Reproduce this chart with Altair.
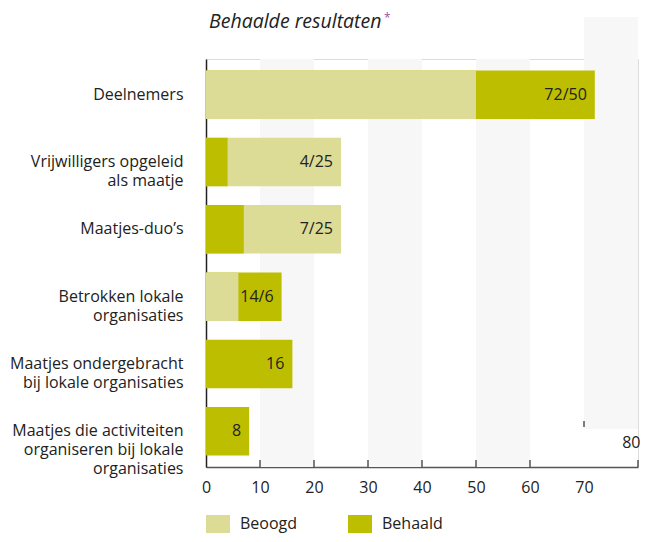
import altair as alt
import pandas as pd

# ---- data ----
categories = [
    "Deelnemers",
    "Vrijwilligers opgeleid|als maatje",
    "Maatjes-duo’s",
    "Betrokken lokale|organisaties",
    "Maatjes ondergebracht|bij lokale organisaties",
    "Maatjes die activiteiten|organiseren bij lokale|organisaties",
]
beoogd = [50, 25, 25, 6, None, None]
behaald = [72, 4, 7, 14, 16, 8]
series_names = ["Beoogd", "Behaald"]
series_colors = ["#dcdc96", "#bebe00"]
x_tick_values = [0, 10, 20, 30, 40, 50, 60, 70, 80]
inner_ticks = [10, 20, 30, 40, 50, 60, 80]
raised_tick = [70]
band_starts = [10, 30, 50]
raised_band_start = [70]
title_text = "Behaalde resultaten"
title_mark = "*"

FONT = "Open Sans"
TXT = "#222222"
FS = 16
W, H = 432, 408

rows = []
labels = []
for c, b, h in zip(categories, beoogd, behaald):
    if b is not None:
        rows.append({"cat": c, "series": "Beoogd", "value": b})
    rows.append({"cat": c, "series": "Behaald", "value": h})
    end = max(v for v in (b, h) if v is not None)
    txt = f"{h}/{b}" if b is not None else f"{h}"
    labels.append({"cat": c, "end": end, "label": txt})
bars_df = pd.DataFrame(rows)
labels_df = pd.DataFrame(labels)
bands_df = pd.DataFrame({"start": band_starts, "end": [s + 10 for s in band_starts]})
rband_df = pd.DataFrame({"start": raised_band_start, "end": [s + 10 for s in raised_band_start]})
ticks_df = pd.DataFrame({"t": inner_ticks})
rtick_df = pd.DataFrame({"t": raised_tick})

xscale = alt.Scale(domain=[0, 80], nice=False, zero=True)
yscale = alt.Scale(paddingInner=0.28, paddingOuter=0.17)

bands = alt.Chart(bands_df).mark_rect(color="#f7f7f7").encode(
    x=alt.X("start:Q", scale=xscale, title=None),
    x2="end:Q",
    y=alt.value(0),
    y2=alt.value(H),
)
rband = alt.Chart(rband_df).mark_rect(color="#f7f7f7").encode(
    x=alt.X("start:Q", scale=xscale, title=None),
    x2="end:Q",
    y=alt.value(-42),
    y2=alt.value(H - 38),
)

bars = alt.Chart(bars_df).mark_bar().encode(
    x=alt.X(
        "value:Q",
        scale=xscale,
        stack=None,
        title=None,
        axis=alt.Axis(
            values=x_tick_values,
            ticks=False,
            grid=False,
            domainColor="#555555",
            domainWidth=1.5,
            labelFont=FONT,
            labelFontSize=FS,
            labelColor=TXT,
            labelPadding={"condition": {"test": "datum.value == 80", "value": -33}, "value": 12},
            labelAlign={"condition": {"test": "datum.value == 80", "value": "right"}, "value": "center"},
            labelOffset={"condition": {"test": "datum.value == 80", "value": 2}, "value": 0},
            labelFlush=False,
            labelOverlap=False,
        ),
    ),
    y=alt.Y(
        "cat:N",
        sort=categories,
        scale=yscale,
        title=None,
        axis=alt.Axis(
            ticks=False,
            grid=False,
            domainColor=TXT,
            domainWidth=1.5,
            labelFont=FONT,
            labelFontSize=FS,
            labelColor=TXT,
            labelPadding=23,
            labelLimit=300,
            labelLineHeight=19,
            labelExpr="split(datum.label, '|')",
        ),
    ),
    color=alt.Color(
        "series:N",
        scale=alt.Scale(domain=series_names, range=series_colors),
        legend=alt.Legend(
            title=None,
            orient="none",
            legendX=0,
            legendY=453,
            direction="horizontal",
            symbolType="M-1,-0.75H1V0.75H-1Z",
            symbolSize=576,
            symbolStrokeWidth=0,
            symbolOpacity=1,
            labelFont=FONT,
            labelFontSize=FS,
            labelColor=TXT,
            labelOffset=10,
            columnPadding=50,
        ),
    ),
    order=alt.Order("value:Q", sort="descending"),
)

ticks = alt.Chart(ticks_df).mark_rule(color="#555555", strokeWidth=1.5).encode(
    x=alt.X("t:Q", scale=xscale, title=None),
    y=alt.value(H - 7),
    y2=alt.value(H),
)
rtick = alt.Chart(rtick_df).mark_rule(color="#555555", strokeWidth=1.5).encode(
    x=alt.X("t:Q", scale=xscale, title=None),
    y=alt.value(H - 46),
    y2=alt.value(H - 40),
)

text = alt.Chart(labels_df).mark_text(
    align="right", baseline="middle", dx=-8, font=FONT, fontSize=FS, color=TXT
).encode(
    x=alt.X("end:Q", scale=xscale, title=None),
    y=alt.Y("cat:N", sort=categories, scale=yscale, title=None),
    text="label:N",
)

title = alt.Chart(pd.DataFrame({"t": [title_text]})).mark_text(
    align="left", baseline="alphabetic", font=FONT, fontSize=19.5, fontStyle="italic", color=TXT
).encode(x=alt.value(3), y=alt.value(-31), text="t:N")
star = alt.Chart(pd.DataFrame({"t": [title_mark]})).mark_text(
    align="left", baseline="alphabetic", font=FONT, fontSize=12, color="#a050a8"
).encode(x=alt.value(178), y=alt.value(-37), text="t:N")

chart = (
    alt.layer(bands, rband, bars, ticks, rtick, text, title, star)
    .properties(
        width=W,
        height=H,
        autosize=alt.AutoSizeParams(type="none"),
        padding={"left": 198, "top": 51, "right": 2, "bottom": 67},
    )
    .configure_view(stroke=None)
    .configure(background="white")
)

chart.save("out.html", embed_options={"renderer": "svg", "actions": False})
